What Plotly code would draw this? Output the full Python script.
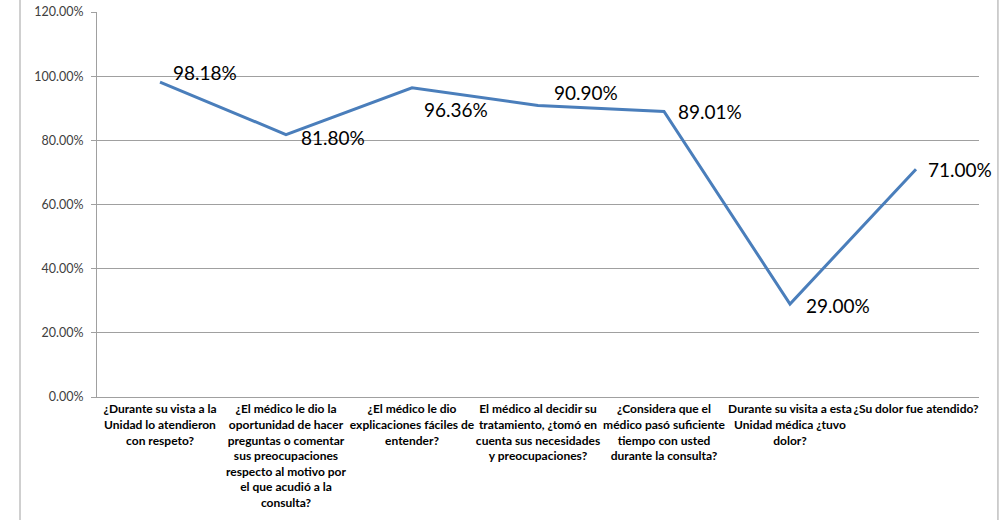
import plotly.graph_objects as go

categories = [
    "¿Durante su vista a la<br>Unidad lo atendieron<br>con respeto?",
    "¿El médico le dio la<br>oportunidad de hacer<br>preguntas o comentar<br>sus preocupaciones<br>respecto al motivo por<br>el que acudió a la<br>consulta?",
    "¿El médico le dio<br>explicaciones fáciles de<br>entender?",
    "El médico al decidir su<br>tratamiento, ¿tomó en<br>cuenta sus necesidades<br>y preocupaciones?",
    "¿Considera que el<br>médico pasó suficiente<br>tiempo con usted<br>durante la consulta?",
    "Durante su visita a esta<br>Unidad médica ¿tuvo<br>dolor?",
    "¿Su dolor fue atendido?",
]
values = [0.9818, 0.8180, 0.9636, 0.9090, 0.8901, 0.2900, 0.7100]
labels = ["98.18%", "81.80%", "96.36%", "90.90%", "89.01%", "29.00%", "71.00%"]
y_ticks = [0, 0.2, 0.4, 0.6, 0.8, 1.0, 1.2]
y_ticktext = ["0.00%", "20.00%", "40.00%", "60.00%", "80.00%", "100.00%", "120.00%"]

# pixel offsets of each data label from its point (label left edge / middle)
label_dx = [11, 13, 10, 14, 12, 14, 10]
label_dy = [10, -3, -22, 13, 0, -2, 0]

xs = list(range(len(categories)))

fig = go.Figure()
fig.add_trace(go.Scatter(
    x=xs,
    y=values,
    mode="lines",
    line=dict(color="#4a7ebb", width=3),
    cliponaxis=False,
    hoverinfo="skip",
))

for x, y, t, dx, dy in zip(xs, values, labels, label_dx, label_dy):
    fig.add_annotation(
        x=x, y=y, text=t, showarrow=False,
        xanchor="left", yanchor="middle",
        xshift=dx, yshift=dy,
        font=dict(family="Lato, Liberation Sans", size=19, color="#000000"),
    )

grey = "#a0a0a0"
fig.update_layout(
    width=1008,
    height=520,
    margin=dict(l=97, r=29, t=12, b=123),
    paper_bgcolor="white",
    plot_bgcolor="white",
    showlegend=False,
    xaxis=dict(
        range=[-0.5, len(categories) - 0.5],
        tickmode="array",
        tickvals=xs,
        ticktext=["<b>%s</b>" % c for c in categories],
        tickfont=dict(family="Lato, Liberation Sans", size=12, color="#000000"),
        tickangle=0,
        ticklabelstandoff=1,
        automargin=False,
        showgrid=False,
        showline=True,
        linecolor=grey,
        linewidth=1,
        ticks="",
        zeroline=False,
        fixedrange=True,
    ),
    yaxis=dict(
        range=[0, 1.2001],
        tickmode="array",
        tickvals=y_ticks,
        ticktext=y_ticktext,
        tickfont=dict(family="Lato, Liberation Sans", size=12.5, color="#404040"),
        ticklabelstandoff=5,
        automargin=False,
        showgrid=True,
        gridcolor=grey,
        gridwidth=1,
        showline=True,
        linecolor=grey,
        ticks="outside",
        ticklen=5,
        tickcolor=grey,
        zeroline=False,
        fixedrange=True,
    ),
    shapes=[
        dict(type="line", xref="paper", yref="paper",
             x0=-0.0873, x1=-0.0873, y0=-0.34, y1=1.04,
             line=dict(color=grey, width=1)),
        dict(type="line", xref="paper", yref="paper",
             x0=1.0215, x1=1.0215, y0=-0.34, y1=1.04,
             line=dict(color=grey, width=1)),
    ],
)

fig.write_html(
    "out.html",
    config={"displayModeBar": False},
    post_script="document.body.style.margin='0';document.body.style.overflow='hidden';",
)
